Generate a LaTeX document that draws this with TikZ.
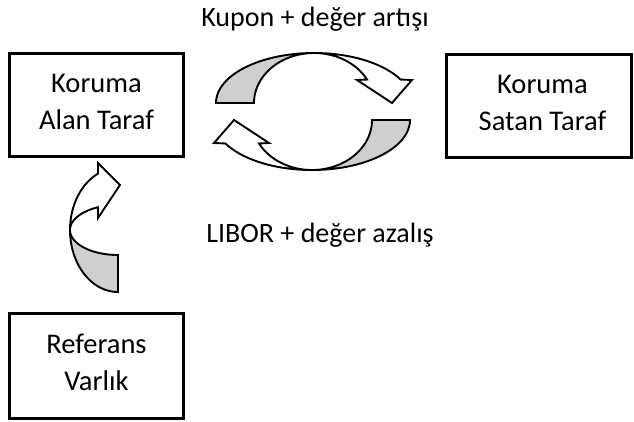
\documentclass[tikz,border=0pt]{standalone}
\usepackage{fontspec}
\setmainfont{Carlito}
\definecolor{arrowgray}{RGB}{207,207,207}
\newcommand{\lnstrut}{\rule[-8pt]{0pt}{28pt}}
% one curved ribbon arrow (drawn in pixel coordinates, y downwards)
\newcommand{\ribbonarrow}{%
  \filldraw[ribbon, fill=arrowgray]
    plot[domain=180:90, samples=50] ({314+98*cos(\x)},{103-50*sin(\x)})
    -- plot[domain=90:180, samples=50] ({314+60*cos(\x)},{103-50*sin(\x)})
    -- cycle;
  \filldraw[ribbon, fill=white]
    plot[domain=90:28, samples=50] ({314+98*cos(\x)},{103-50*sin(\x)})
    -- (412,80) -- (392,103) -- (357,80)
    -- plot[domain=28:90, samples=50] ({314+60*cos(\x)},{103-50*sin(\x)})
    -- cycle;
}
\begin{document}
\begin{tikzpicture}[x=1pt, y=-1pt,
  box/.style={draw, line width=3pt, fill=white, align=center,
    font=\fontsize{28.5}{37}\selectfont, inner sep=0pt},
  lbl/.style={font=\fontsize{28}{37}\selectfont, inner sep=0pt, anchor=base},
  ribbon/.style={draw=black, line width=1.9pt}]
\useasboundingbox (0,0) rectangle (634,421);

% boxes
\node[box, minimum width=174pt, minimum height=103.5pt] (alan) at (96.5,104.75)
  {\lnstrut Koruma\\\lnstrut Alan Taraf};
\node[box, minimum width=185pt, minimum height=102.5pt] (satan) at (538.5,105.75)
  {\hspace*{8pt}\lnstrut Koruma\\\hspace*{8pt}\lnstrut Satan Taraf};
\node[box, minimum width=174pt, minimum height=105pt] (ref) at (96.5,365.5)
  {\lnstrut Referans\\\lnstrut Varlık};

% labels
\node[lbl] (kupon) at (315,26) {Kupon + değer artışı};
\node[lbl] (libor) at (320,242) {LIBOR + değer azalış};

% upper curved arrow
\ribbonarrow
% lower curved arrow (same shape turned by 180 degrees)
\begin{scope}[rotate around={180:(313,111.5)}]
  \ribbonarrow
\end{scope}

% vertical curved arrow (reference -> protection buyer)
\filldraw[ribbon, fill=arrowgray]
  plot[domain=0:90, samples=50] ({118-48*cos(\x)},{230+62*sin(\x)})
  -- plot[domain=90:0, samples=50] ({118-48*cos(\x)},{230+25*sin(\x)})
  -- cycle;
\filldraw[ribbon, fill=white]
  plot[domain=0:-65.4, samples=50] ({118-48*cos(\x)},{230+62*sin(\x)})
  -- (98,163) -- (120,185) -- (98,218)
  -- plot[domain=-65.4:0, samples=50] ({118-48*cos(\x)},{230+25*sin(\x)})
  -- cycle;
\end{tikzpicture}
\end{document}
